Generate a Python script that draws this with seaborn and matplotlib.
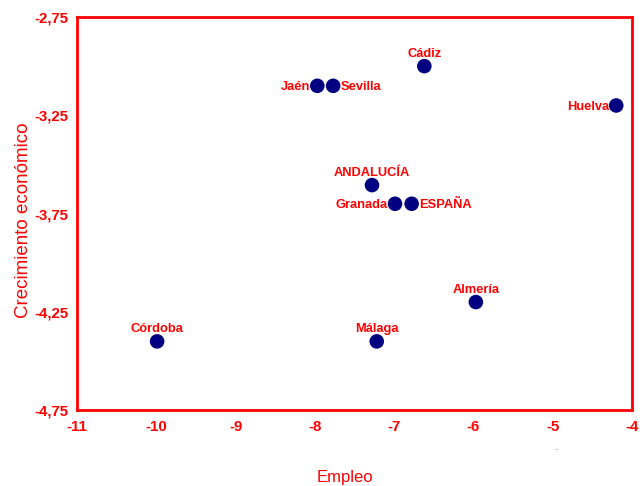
import matplotlib

matplotlib.use("Agg")
import matplotlib.pyplot as plt
import pandas as pd
import seaborn as sns

# data
regions = ["Cádiz", "Jaén", "Sevilla", "Huelva", "ANDALUCÍA",
           "Granada", "ESPAÑA", "Almería", "Córdoba", "Málaga"]
empleo = [-6.62, -7.97, -7.77, -4.20, -7.28, -6.99, -6.78, -5.97, -9.99, -7.22]
crecimiento = [-3.00, -3.10, -3.10, -3.20, -3.605, -3.70, -3.70, -4.20, -4.40, -4.40]
label_side = ["top", "left", "right", "left", "top",
              "left", "right", "top", "top", "top"]

x_ticks = [-11, -10, -9, -8, -7, -6, -5, -4]
y_ticks = [-2.75, -3.25, -3.75, -4.25, -4.75]

RED = "#ff0000"
NAVY = "#000080"

df = pd.DataFrame({"Empleo": empleo, "Crecimiento": crecimiento,
                   "Region": regions, "side": label_side})

sns.set_style("white")
plt.rcParams["font.family"] = ["Liberation Sans", "DejaVu Sans"]

fig = plt.figure(figsize=(6.43, 4.86), dpi=100)
ax = fig.add_axes([0.1198, 0.156, 0.8632, 0.809])

sns.scatterplot(data=df, x="Empleo", y="Crecimiento", ax=ax,
                color=NAVY, s=110, edgecolor="none", zorder=3)

for _, row in df.iterrows():
    if row["side"] == "top":
        kw = dict(xytext=(0, 4.5), ha="center", va="bottom")
    elif row["side"] == "left":
        kw = dict(xytext=(-5, -1), ha="right", va="center")
    else:
        kw = dict(xytext=(5.5, -1), ha="left", va="center")
    ax.annotate(row["Region"], (row["Empleo"], row["Crecimiento"]),
                textcoords="offset points", fontsize=9.3, fontweight="bold",
                color=RED, **kw)

ax.set_xlim(-11, -4)
ax.set_ylim(-4.75, -2.75)
ax.set_xticks(x_ticks)
ax.set_yticks(y_ticks)
ax.set_xticklabels([str(t) for t in x_ticks])
ax.set_yticklabels([f"{t:.2f}".replace(".", ",") for t in y_ticks])
ax.tick_params(length=0, labelsize=10.8, labelcolor=RED)
ax.tick_params(axis="x", pad=7)
ax.tick_params(axis="y", pad=6)
for lbl in ax.get_xticklabels() + ax.get_yticklabels():
    lbl.set_fontweight("bold")

for spine in ax.spines.values():
    spine.set_color(RED)
    spine.set_linewidth(2)
    spine.set_visible(True)

ax.set_xlabel("Empleo", color=RED, fontsize=12, va="center")
ax.set_ylabel("Crecimiento económico", color=RED, fontsize=13.5,
              va="center", ha="center")
ax.xaxis.set_label_coords(0.483, -0.170)
ax.yaxis.set_label_coords(-0.097, 0.483)

fig.text(0.863, 0.074, ".", fontsize=5, color="black")

fig.savefig("out.png", dpi=100)
